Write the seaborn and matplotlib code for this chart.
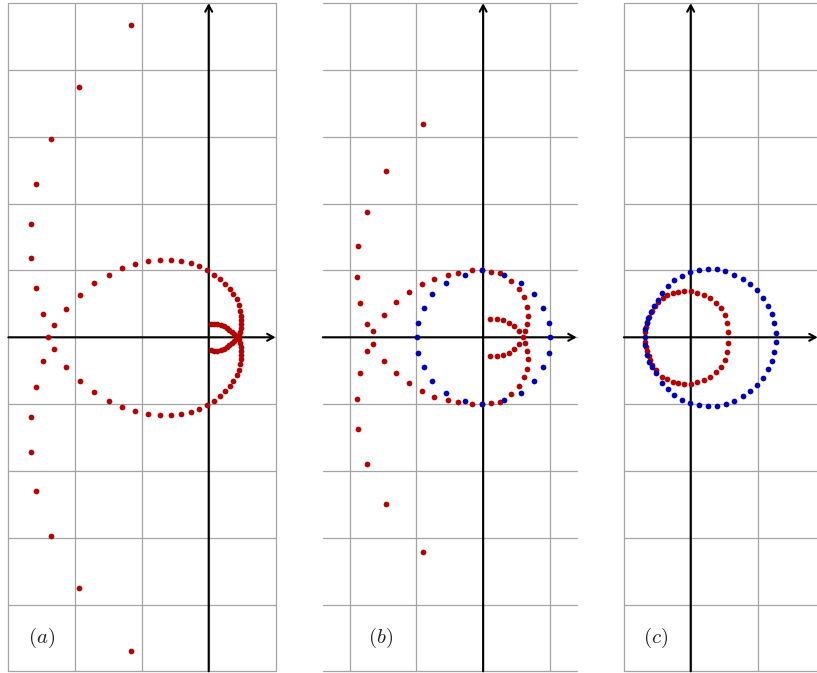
import math
import matplotlib
matplotlib.use("Agg")
import matplotlib.pyplot as plt
import pandas as pd
import seaborn as sns

sns.set_style("white")
plt.rcParams["mathtext.fontset"] = "cm"

RED = "#b50000"
BLUE = "#0000b5"

# ---- panel (a): image curve only ----
a_red_x = [
    -1.16, -1.94, -2.36, -2.58, -2.66, -2.66, -2.59, -2.48, -2.40,
    -2.48, -2.59, -2.66, -2.66, -2.58, -2.36, -1.94, -1.16,
    -2.32, -2.13, -1.93, -1.71, -1.50, -1.30, -1.10, -0.91, -0.73, -0.56,
    -0.41, -0.27, -0.14, -0.02, 0.08, 0.17, 0.25, 0.32, 0.37, 0.42, 0.45,
    0.47, 0.482, 0.485, 0.483, 0.477, 0.467, 0.45,
    -2.32, -2.13, -1.93, -1.71, -1.50, -1.30, -1.10, -0.91, -0.73, -0.56,
    -0.41, -0.27, -0.14, -0.02, 0.08, 0.17, 0.25, 0.32, 0.37, 0.42, 0.45,
    0.47, 0.482, 0.485, 0.483, 0.477, 0.467, 0.45,
    0.03, 0.08, 0.13, 0.18, 0.23, 0.27, 0.31, 0.35, 0.38, 0.41, 0.44,
    0.03, 0.08, 0.13, 0.18, 0.23, 0.27, 0.31, 0.35, 0.38, 0.41,
]
a_red_y = [
    4.68, 3.75, 2.97, 2.30, 1.70, 1.18, 0.74, 0.35, 0.00,
    -0.35, -0.74, -1.19, -1.71, -2.30, -2.98, -3.76, -4.69,
    0.18, 0.43, 0.64, 0.81, 0.94, 1.04, 1.10, 1.14, 1.16, 1.16,
    1.14, 1.11, 1.06, 1.01, 0.94, 0.88, 0.80, 0.72, 0.65, 0.57, 0.49,
    0.40, 0.32, 0.26, 0.20, 0.14, 0.08, 0.03,
    -0.18, -0.44, -0.65, -0.82, -0.95, -1.04, -1.11, -1.15, -1.17, -1.17,
    -1.15, -1.12, -1.07, -1.02, -0.95, -0.88, -0.81, -0.73, -0.65, -0.57, -0.49,
    -0.40, -0.32, -0.26, -0.20, -0.14, -0.08, -0.03,
    0.195, 0.20, 0.20, 0.19, 0.17, 0.14, 0.11, 0.08, 0.05, 0.02, 0.00,
    -0.195, -0.20, -0.20, -0.19, -0.17, -0.14, -0.11, -0.08, -0.05, -0.02,
]

# ---- panel (b): unit circle (blue) and its image (red) ----
b_red_x = [
    -0.90, -1.46, -1.74, -1.87, -1.89, -1.84, -1.74, -1.65,
    -1.65, -1.74, -1.84, -1.89, -1.87, -1.74, -1.46, -0.90,
    -1.48, -1.30, -1.11, -0.92, -0.73, -0.53, -0.37, -0.17, -0.02, 0.12, 0.26,
    0.42, 0.53, 0.61, 0.65, 0.67, 0.66, 0.63, 0.59,
    -1.48, -1.30, -1.11, -0.92, -0.73, -0.53, -0.37, -0.17, -0.02, 0.12, 0.26,
    0.42, 0.53, 0.61, 0.65, 0.67, 0.66, 0.63,
    0.11, 0.21, 0.30, 0.38, 0.46, 0.53,
    0.11, 0.21, 0.30, 0.38, 0.46, 0.53,
]
b_red_y = [
    3.20, 2.49, 1.88, 1.36, 0.91, 0.52, 0.20, 0.10,
    -0.10, -0.20, -0.53, -0.92, -1.37, -1.89, -2.50, -3.21,
    0.34, 0.53, 0.68, 0.80, 0.88, 0.94, 0.97, 1.00, 1.00, 0.98, 0.97,
    0.84, 0.72, 0.60, 0.46, 0.32, 0.20, 0.09, 0.00,
    -0.35, -0.54, -0.69, -0.80, -0.89, -0.94, -0.97, -1.00, -1.00, -0.99, -0.97,
    -0.85, -0.73, -0.60, -0.47, -0.33, -0.20, -0.09,
    0.28, 0.28, 0.26, 0.22, 0.17, 0.10,
    -0.28, -0.28, -0.27, -0.23, -0.18, -0.10,
]
b_blue_x = [
    -0.99, -0.97, -0.89, -0.76, -0.56, -0.27, -0.02, 0.32, 0.57, 0.76, 0.90, 0.98, 1.00,
    -0.97, -0.89, -0.76, -0.56, -0.27, -0.02, 0.32, 0.57, 0.76, 0.90, 0.98,
]
b_blue_y = [
    0.00, 0.22, 0.44, 0.65, 0.82, 0.94, 1.00, 0.93, 0.82, 0.65, 0.44, 0.22, 0.00,
    -0.23, -0.45, -0.65, -0.83, -0.95, -1.00, -0.94, -0.83, -0.65, -0.45, -0.23,
]

# ---- panel (c): shifted circle (blue) and its image (red) ----
c_blue_x = [
    -0.69, -0.685, -0.66, -0.64, -0.60, -0.545, -0.495, -0.425, -0.345, -0.245,
    -0.13, -0.005, 0.125, 0.255, 0.39, 0.52, 0.655, 0.78, 0.89, 0.995, 1.085,
    1.16, 1.215, 1.25, 1.27,
    -0.68, -0.65, -0.62, -0.58, -0.52, -0.425, -0.34, -0.245, -0.13, -0.005,
    0.125, 0.255, 0.39, 0.525, 0.655, 0.78, 0.895, 0.995, 1.085, 1.16, 1.215,
    1.25, 1.27,
]
c_blue_y = [
    0.0, 0.125, 0.21, 0.285, 0.375, 0.47, 0.56, 0.67, 0.77, 0.855,
    0.925, 0.98, 1.01, 1.025, 1.015, 0.99, 0.94, 0.88, 0.795, 0.705, 0.595,
    0.475, 0.345, 0.21, 0.06,
    -0.115, -0.265, -0.365, -0.45, -0.54, -0.68, -0.78, -0.865, -0.935, -0.985,
    -1.015, -1.025, -1.025, -0.995, -0.95, -0.885, -0.805, -0.715, -0.605, -0.48, -0.35,
    -0.215, -0.075,
]
c_red_x = [
    -0.685, -0.675, -0.655, -0.62, -0.58, -0.535, -0.495, -0.42, -0.35, -0.27,
    -0.185, -0.095, 0.005, 0.10, 0.195, 0.29, 0.375, 0.45, 0.51, 0.545, 0.565,
    -0.69, -0.675, -0.66, -0.63, -0.61, -0.575, -0.52, -0.435, -0.35, -0.27,
    -0.185, -0.095, 0.005, 0.10, 0.195, 0.29, 0.375, 0.45, 0.51, 0.545, 0.565,
]
c_red_y = [
    0.075, 0.16, 0.235, 0.31, 0.395, 0.475, 0.535, 0.595, 0.63, 0.66,
    0.685, 0.70, 0.695, 0.67, 0.635, 0.585, 0.52, 0.435, 0.335, 0.22, 0.08,
    -0.065, -0.14, -0.205, -0.275, -0.345, -0.415, -0.49, -0.59, -0.63, -0.665,
    -0.69, -0.70, -0.695, -0.675, -0.64, -0.59, -0.525, -0.44, -0.34, -0.225, -0.085,
]

labels = ["(a)", "(b)", "(c)"]
label_x = [-2.5, -1.53, -0.52]
label_y = -4.5

frames = []
for panel, series, xs, ys in [
    ("(a)", "image", a_red_x, a_red_y),
    ("(b)", "image", b_red_x, b_red_y),
    ("(b)", "circle", b_blue_x, b_blue_y),
    ("(c)", "image", c_red_x, c_red_y),
    ("(c)", "circle", c_blue_x, c_blue_y),
]:
    frames.append(pd.DataFrame({"panel": panel, "series": series, "x": xs, "y": ys}))
df = pd.concat(frames, ignore_index=True)

# figure layout in pixels (817 x 673 at 100 dpi), 66.8 px per unit
W, H = 817, 673
UNIT = 66.8
TOP = 3.3
layout = {
    "(a)": dict(x0=8.3, xlim=(-3.0, 1.0)),
    "(b)": dict(x0=322.8, xlim=(-2.4, 1.4)),
    "(c)": dict(x0=623.9, xlim=(-1.0, 1.9)),
}
ylim = (-5.0, 5.0)

fig = plt.figure(figsize=(W / 100, H / 100), dpi=100)
palette = {"image": RED, "circle": BLUE}

for lab, lx in zip(labels, label_x):
    spec = layout[lab]
    xl = spec["xlim"]
    wpx = (xl[1] - xl[0]) * UNIT
    hpx = (ylim[1] - ylim[0]) * UNIT
    ax = fig.add_axes([spec["x0"] / W, (H - TOP - hpx) / H, wpx / W, hpx / H])
    ax.set_xlim(*xl)
    ax.set_ylim(*ylim)

    # unit grid
    for gx in range(math.ceil(xl[0]), math.floor(xl[1]) + 1):
        ax.axvline(gx, color="#a4a4a4", lw=0.9, zorder=1, clip_on=False)
    for gy in range(int(ylim[0]), int(ylim[1]) + 1):
        ax.axhline(gy, color="#a4a4a4", lw=0.9, zorder=1, clip_on=False)

    # coordinate axes with arrows
    arrow = dict(arrowstyle="->,head_length=0.45,head_width=0.25", lw=1.5,
                 color="black", shrinkA=0, shrinkB=0)
    ax.annotate("", xy=(xl[1], 0), xytext=(xl[0], 0), arrowprops=arrow,
                annotation_clip=False, zorder=2)
    ax.annotate("", xy=(0, ylim[1]), xytext=(0, ylim[0]), arrowprops=arrow,
                annotation_clip=False, zorder=2)

    sub = df[df["panel"] == lab]
    for series in ["image", "circle"]:
        s = sub[sub["series"] == series]
        if len(s):
            sns.scatterplot(data=s, x="x", y="y", color=palette[series], s=17,
                            linewidth=0, ax=ax, zorder=3, legend=False)
    ax.set_axis_off()

    ax.text(lx, label_y, "$" + lab + "$", fontsize=15, ha="center",
            va="center", color="#222222")

fig.savefig("out.png", dpi=100)
